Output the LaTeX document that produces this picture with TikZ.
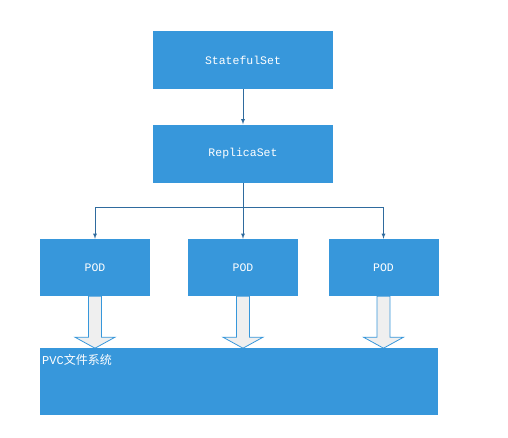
\documentclass[tikz,border=0pt]{standalone}
\usepackage{fontspec}
\setmonofont{Liberation Mono}
\newfontfamily\cjk{Noto Sans CJK SC}

\definecolor{boxblue}{HTML}{3797DB}
\definecolor{lineblue}{HTML}{2F6B9E}
\definecolor{arrowgray}{HTML}{EFEFEF}

\tikzset{
	kbox/.style={fill=boxblue, text=white, inner sep=0pt,
		minimum width=180pt, minimum height=58pt,
		font=\ttfamily\fontsize{11.5}{12}\selectfont},
	podbox/.style={kbox, minimum width=110pt, minimum height=57pt},
	fatarrow/.style={draw=boxblue, fill=arrowgray, line width=0.8pt},
	link/.style={lineblue, line width=0.8pt},
}

\begin{document}
\begin{tikzpicture}[>=latex, x=1pt, y=-1pt]
	\useasboundingbox (0,0) rectangle (508,437);
	\node [kbox] (sts) at (243,60) {StatefulSet};
	\node [kbox] (rs) at (243,153.5) {ReplicaSet};
	\node [podbox] (podA) at (95,267.5) {POD};
	\node [podbox] (podB) at (243,267.5) {POD};
	\node [podbox] (podC) at (383.5,267.5) {POD};
	\coordinate (bus) at (243,207);
	\draw [link,->] (sts) -- (rs);
	\draw [link] (rs) -- (bus);
	\draw [link,->] (bus) -- (podB);
	\draw [link,->] (bus) -| (podA.north);
	\draw [link,->] (bus) -| (podC.north);
	\foreach \p in {podA,podB,podC}
		\draw [fatarrow, shift={(\p.south)}] (-6.5,0) -- (-6.5,41) -- (-20,41) -- (0,52) -- (20,41) -- (6.5,41) -- (6.5,0) -- cycle;
	\node [fill=boxblue, minimum width=398pt, minimum height=67pt, inner sep=0pt] (pvc) at (239,381.5) {};
	\node [text=white, anchor=west, inner sep=0pt, font=\ttfamily\fontsize{12}{13}\selectfont] (pvclabel) at (42,360) {PVC{\cjk 文件系统}};
\end{tikzpicture}
\end{document}
